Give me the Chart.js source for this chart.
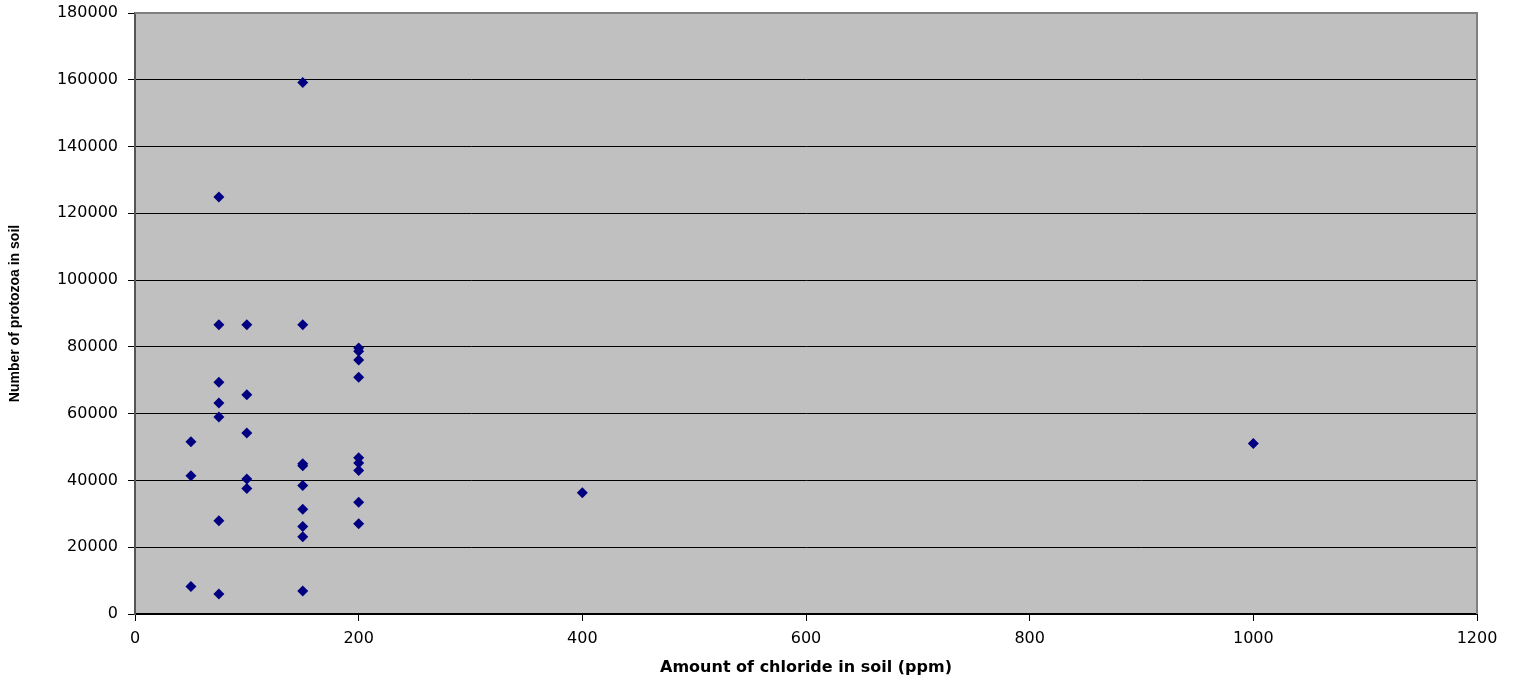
<!DOCTYPE html>
<html>
<head>
<meta charset="utf-8">
<script src="https://cdn.jsdelivr.net/npm/chart.js@4"></script>
<style>
  html, body { margin: 0; padding: 0; background: #ffffff; }
  #wrap { position: relative; width: 1520px; height: 680px; }
</style>
</head>
<body>
<div id="wrap"><canvas id="c" width="1520" height="680"></canvas></div>
<script>
// Amount of chloride in soil (ppm)
const chloride = [
  50, 50, 50,
  75, 75, 75, 75, 75, 75, 75,
  100, 100, 100, 100, 100,
  150, 150, 150, 150, 150, 150, 150, 150, 150,
  200, 200, 200, 200, 200, 200, 200, 200, 200,
  400,
  1000
];
// Number of protozoa in soil
const protozoa = [
  51600, 41400, 8200,
  124900, 86600, 69400, 63200, 59000, 27900, 6000,
  86600, 65700, 54200, 40400, 37600,
  159200, 86600, 45000, 44400, 38500, 31400, 26200, 23100, 6900,
  79700, 78700, 76100, 70900, 46800, 45200, 43000, 33500, 27000,
  36300,
  51100
];
const xTitle = 'Amount of chloride in soil (ppm)';
const yTitle = 'Number of protozoa in soil';

const points = chloride.map((x, i) => ({ x: x, y: protozoa[i] }));

const plotBg = {
  id: 'plotBg',
  beforeDraw(chart) {
    const a = chart.chartArea, ctx = chart.ctx;
    ctx.save();
    ctx.fillStyle = '#C0C0C0';
    ctx.fillRect(a.left, a.top, a.right - a.left, a.bottom - a.top);
    ctx.restore();
  },
  beforeDatasetsDraw(chart) {
    const a = chart.chartArea, ctx = chart.ctx;
    ctx.save();
    ctx.strokeStyle = '#808080';
    ctx.lineWidth = 2;
    ctx.beginPath();
    ctx.moveTo(a.left, a.top);
    ctx.lineTo(a.right, a.top);
    ctx.lineTo(a.right, a.bottom);
    ctx.stroke();
    ctx.restore();
  }
};

new Chart(document.getElementById('c'), {
  type: 'scatter',
  data: {
    datasets: [{
      data: points,
      pointStyle: 'rectRot',
      pointRadius: 5.5,
      pointHoverRadius: 5.5,
      backgroundColor: '#000080',
      borderColor: '#000080',
      borderWidth: 0
    }]
  },
  options: {
    responsive: false,
    animation: false,
    layout: { padding: { left: 0, right: 43, top: 13, bottom: 0 } },
    plugins: { legend: { display: false }, tooltip: { enabled: false } },
    scales: {
      x: {
        type: 'linear',
        min: 0, max: 1200,
        afterFit(s) { s.height = 66; s.paddingLeft = 0; s.paddingRight = 0; },
        ticks: {
          stepSize: 200,
          color: '#000',
          font: { family: 'DejaVu Sans', size: 16 },
          padding: 8,
          maxRotation: 0,
          callback: (v) => String(v)
        },
        grid: { drawOnChartArea: false, drawTicks: true, tickLength: 7, color: '#000' },
        border: { color: '#000', width: 2 },
        title: {
          display: true,
          text: xTitle,
          color: '#000',
          font: { family: 'DejaVu Sans', size: 16, weight: 'bold' },
          padding: { top: 0, bottom: 3 }
        }
      },
      y: {
        type: 'linear',
        min: 0, max: 180000,
        afterFit(s) { s.width = 135; s.paddingTop = 0; s.paddingBottom = 0; },
        ticks: {
          stepSize: 20000,
          color: '#000',
          font: { family: 'DejaVu Sans', size: 16 },
          padding: 10,
          callback: (v) => String(v)
        },
        grid: {
          color: (ctx) => (ctx.tick && ctx.tick.value === 180000) ? '#808080' : '#000',
          lineWidth: 1,
          tickLength: 7,
          tickColor: '#000'
        },
        border: { color: '#555', width: 2 },
        title: {
          display: true,
          text: yTitle,
          color: '#000',
          font: { family: 'Liberation Sans', size: 14, weight: 'bold' },
          padding: { top: 7, bottom: 0 }
        }
      }
    }
  },
  plugins: [plotBg]
});
</script>
</body>
</html>
